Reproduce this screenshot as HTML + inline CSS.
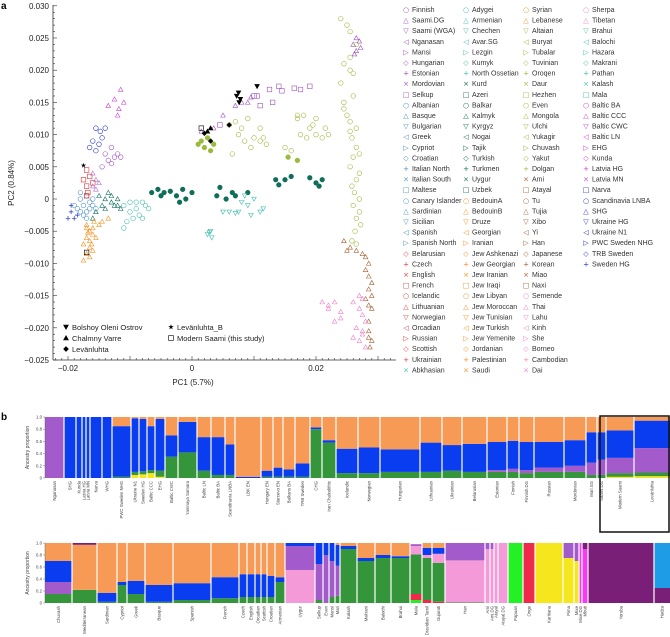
<!DOCTYPE html>
<html><head><meta charset="utf-8"><style>
body{margin:0;background:#fff}
svg{display:block;font-family:"Liberation Sans",sans-serif}
</style></head><body>
<svg id="fig" width="670" height="637" viewBox="0 0 670 637" xmlns="http://www.w3.org/2000/svg">
<text x="1" y="9" font-size="10" font-weight="bold">a</text>
<text x="1" y="420" font-size="10" font-weight="bold">b</text>
<g id="pca"></g>
<g id="legend"></g>
<g id="bars"></g>
</svg>
<script>
// ---------- PCA data (values in units of 0.001) ----------
const yTicks=[30,25,20,15,10,5,0,-5,-10,-15,-20,-25];
const yTickLabels=["0.030","0.025","0.020","0.015","0.010","0.005","0","−0.005","−0.010","−0.015","−0.020","−0.025"];
const xTicks=[-20,0,20];
const xTickLabels=["−0.02","0","0.02"];
const magentaPts=[[-13.5,14.5],[-12.5,15.5],[-11.5,17],[-12,13],[-11,15],[-11.8,14]];
const bluePts=[[-15.5,11],[-14.8,10.5],[-16,9],[-15,8.5],[-14,11],[-16.5,8],[-15.5,7.5],[-14.5,9.5]];
const purpleCircPts=[[-13,8],[-12,7],[-13.5,6],[-12.5,6.5],[-14,7],[-11.5,6.5],[-13,5.5],[-14.5,5]];
const redPts=[[-17,4.5],[-16.5,3.5],[-17.5,3],[-16,2.5],[-17,2],[-16.8,1],[-17,0.5]];
const lilacPts=[[-16,4],[-15.5,3],[-16,2],[-15,2.5],[-15.5,1.5]];
const steelPts=[[-18,0],[-17.5,-1],[-17,-2],[-18.5,-1.5],[-16.5,-0.5],[-17,0.5],[-16,-1],[-17.5,-2.5],[-18,-2],[-16,0],[-16.5,-1.5],[-19,-1],[-18,1],[-17,-3],[-15.5,-1.5]];
const bluePlusPts=[[-20,-3],[-19.5,-2],[-19,-3],[-18.5,-2.5],[-19.5,-1]];
const orangePts=[[-17,-4],[-16.5,-5],[-17,-6],[-16,-5.5],[-17.5,-7],[-16.5,-7.5],[-17,-8.5],[-16,-8],[-17.5,-9.5],[-16.5,-9],[-15.5,-6],[-16,-4.5],[-14.5,-3.5],[-15,-4],[-13.5,-3],[-17,-4.5],[-16.5,-6.5],[-16.2,-7],[-16.8,-5.2],[-15.8,-3.5]];
const tealSmallPts=[[-15,0.5],[-14,0],[-13,-0.5],[-12,0],[-13.5,1],[-14.5,-1],[-12.5,-1],[-11.5,-1.5],[-14,-1.5],[-15.5,-2],[-16,-3],[-13,0.5],[-12,-1]];
const turqPts=[[-11,-1],[-10,-2],[-9,-1.5],[-8,-0.5],[-9.5,-3],[-10.5,-3.5],[-8.5,-2.5],[-7.5,-1],[-9,-0.5],[-10,-0.5],[-8,-3],[-11,-4.5],[-7,-1.5]];
const darkTealPts=[[-6.5,1],[-5.5,1.5],[-4.5,1],[-3.5,1.2],[-2.5,0.5],[-1.5,1.5],[-5,0.5],[-2,-0.5],[-1,0],[0,1],[4,0.5],[5.5,0],[6.5,1],[7,0.5],[4.5,1.8],[9,1],[14,2.2],[15,3],[13.5,3],[16,3.5],[20,2.5],[20.5,2],[21,3],[19,3.3]];
const lightTealPts=[[8,-0.5],[9,-1],[10,0],[7.5,-2],[9.5,-2.5],[8.5,0.5],[3,-5],[2.5,-5.5],[3.2,-6],[2.8,-5.2],[5,-2],[6,-2],[7,-2.2],[11,-2],[11.5,-1.5]];
const purpleSqPts=[[10,16],[12.5,17],[14,17.5],[14.5,16.8],[16.5,17.2],[17.5,17],[19,17.5],[13,15],[4.5,11.5],[10.5,16],[11,14.5]];
const purpleTriPts=[[1.5,10.5],[3.5,11],[5,13],[7,14.5],[8,15],[9,15],[9.5,15.8],[26,24],[26.5,23],[27,24.5],[26.2,22.5],[27.2,23.5],[26.5,25]];
const olivePts=[[1,8.5],[2,8],[3,7.5],[3.5,8.5],[1.5,9],[2.5,9.5],[17,6],[15.5,6.5]];
const oliveOpenPts=[[6,11.5],[7,12],[9,12.5],[7.5,10],[8.5,9],[9.5,8],[10,9.5],[11,9],[12,8.5],[11.5,9.5],[8,11],[11,11],[6.5,7],[17,12.5],[17.5,10],[19,11],[18.5,9.5],[20,10],[21,9.5],[19.5,11.5],[21.5,11],[22,10],[15,8],[16,7.5],[17,13],[18,13],[20,12.5],[24,28],[25,27],[25.5,26],[26.5,24],[25.5,22],[24.5,21],[25.5,20],[26,19.5],[24,18],[24.5,15],[26,16],[24.5,14],[25,13],[25.5,12],[26.5,11],[25.5,10.5],[25.8,9.5],[26.5,8],[27,7],[26,6.5],[25.5,5],[27,4],[26.5,3],[25.8,2],[26.2,1],[27,0],[26,-1],[27,-2],[26.5,-3],[27.2,-4],[26.3,-5],[25.8,-6.5],[26.5,-7]];
const brownPts=[[26.5,-8],[27.5,-8.5],[28,-9],[28.5,-10],[28,-11],[28.5,-12],[29,-13],[28.5,-14],[29,-15],[28,-15.5],[28.5,-16.5],[29,-17],[28.5,-19],[28.5,-20.5],[28.5,-21.5],[29,-22],[28.7,-23],[24.5,-6.5],[25.5,-7.5],[25,-8]];
const pinkPts=[[21,-16],[22,-16.5],[23,-16],[22,-17],[24,-17.5],[26,-16],[27,-17],[27.5,-18],[28,-19],[26.5,-20],[27.5,-21],[27,-22],[28,-23],[26,-21.5],[27.5,-20.5],[23,-19],[24,-18.5],[27,-15],[27.5,-15.5]];
const bolshoyPts=[[7.5,16.5],[7.2,16],[7.8,15.5],[7.6,15],[10.5,17.5]];
const chalmnyPts=[[2.5,10.5],[3,11]];
const levanPts=[[3,9],[6,11.5],[2,10.2]];
const levanBPts=[[-17.5,5.2]];
const saamiPts=[[1.5,11],[-17,-8.3]];

const NS="http://www.w3.org/2000/svg";
function mk(tag,attrs,parent){const e=document.createElementNS(NS,tag);for(const k in attrs)e.setAttribute(k,attrs[k]);parent.appendChild(e);return e;}
const X0=192,XS=6.2,Y0=199,YS=6.44;
function sx(v){return X0+v*XS;}
function sy(v){return Y0-v*YS;}
const pca=document.getElementById('pca');
// axes
const axL=53;
let ax=mk('line',{x1:axL,y1:5,x2:axL,y2:360,stroke:'#333','stroke-width':0.8},pca);


ax=mk('line',{x1:axL,y1:360,x2:396,y2:360,stroke:'#333','stroke-width':0.8},pca);


for(let v=-25;v<=30;v++){mk('line',{x1:axL,y1:sy(v),x2:axL+(v%5===0?4:2),y2:sy(v),stroke:'#333','stroke-width':0.6},pca);}
for(let v=-22;v<=32;v++){mk('line',{x1:sx(v),y1:360,x2:sx(v),y2:360-(v%10===0?4:2),stroke:'#333','stroke-width':0.6},pca);}
yTicks.forEach((v,i)=>{const t=mk('text',{x:axL-4,y:sy(v)+3,'font-size':8,'text-anchor':'end',fill:'#222'},pca);t.textContent=yTickLabels[i];

});
xTicks.forEach((v,i)=>{const t=mk('text',{x:sx(v),y:371,'font-size':8,'text-anchor':'middle',fill:'#222'},pca);t.textContent=xTickLabels[i];

});
let tt=mk('text',{x:193,y:385,'font-size':8,'text-anchor':'middle',fill:'#222'},pca);tt.textContent='PC1 (5.7%)';


tt=mk('text',{x:0,y:0,'font-size':8,'text-anchor':'middle',fill:'#222',transform:'translate(14,183) rotate(-90)'},pca);tt.textContent='PC2 (0.84%)';



function marker(p,shape,col,fill,r){
  const x=p[0],y=p[1];r=r||2.3;let e;
  const f=fill?col:'none';
  if(shape==='o')e=mk('circle',{cx:x,cy:y,r:r,fill:f,stroke:col,'stroke-width':0.6},p[2]);
  else if(shape==='s')e=mk('rect',{x:x-r,y:y-r,width:2*r,height:2*r,fill:f,stroke:col,'stroke-width':0.6},p[2]);
  else if(shape==='t')e=mk('polygon',{points:`${x},${y-r} ${x-r},${y+r*0.8} ${x+r},${y+r*0.8}`,fill:f,stroke:col,'stroke-width':0.6},p[2]);
  else if(shape==='v')e=mk('polygon',{points:`${x},${y+r} ${x-r},${y-r*0.8} ${x+r},${y-r*0.8}`,fill:f,stroke:col,'stroke-width':0.6},p[2]);
  else if(shape==='d')e=mk('polygon',{points:`${x},${y-r} ${x+r},${y} ${x},${y+r} ${x-r},${y}`,fill:f,stroke:col,'stroke-width':0.6},p[2]);
  else if(shape==='+')e=mk('path',{d:`M${x-r} ${y}H${x+r}M${x} ${y-r}V${y+r}`,stroke:col,'stroke-width':0.7},p[2]);
  else if(shape==='*')e=mk('polygon',{points:[0,1,2,3,4,5,6,7,8,9].map(k=>{const a=-Math.PI/2+k*Math.PI/5,rr=k%2?r*0.45:r*1.2;return (x+rr*Math.cos(a))+','+(y+rr*Math.sin(a));}).join(' '),fill:col},p[2]);
  return e;
}
const groups=[
 [tealSmallPts,'t','#0e6e5a',false,'dark-teal-series'],
 [turqPts,'o','#3fbfae',false,'turquoise-series'],
 [steelPts,'o','#4a90c8',false,'steelblue-series'],
 [bluePlusPts,'+','#2233cc',false,'blue-plus-series'],
 [orangePts,'t','#f7901e',false,'orange-series'],
 [magentaPts,'t','#d040d0',false,'magenta-series'],
 [bluePts,'o','#2233cc',false,'blue-series'],
 [purpleCircPts,'o','#a050c0',false,'purple-circle-series'],
 [redPts,'s','#e03030',false,'red-series'],
 [lilacPts,'t','#b070d0',false,'lilac-series'],
 [darkTealPts,'o','#0e6e5a',true,'dark-teal-filled-series'],
 [lightTealPts,'v','#40c0b0',false,'light-teal-series'],
 [purpleSqPts,'s','#a050c0',false,'purple-square-series'],
 [purpleTriPts,'t','#a050c0',false,'purple-triangle-series'],
 [oliveOpenPts,'o','#9abb3a',false,'olive-open-series'],
 [olivePts,'o','#9abb3a',true,'olive-filled-series'],
 [brownPts,'t','#a86030',false,'brown-series'],
 [pinkPts,'t','#f080c8',false,'pink-series'],
 [bolshoyPts,'v','#000',true,'bolshoy-series'],
 [chalmnyPts,'t','#000',true,'chalmny-series'],
 [levanPts,'d','#000',true,'levanluhta-series'],
 [levanBPts,'*','#000',true,'levanluhta-b-series'],
 [saamiPts,'s','#000',false,'modern-saami-series']
];
groups.forEach(g=>{const gg=mk('g',{},pca);
 
 
 g[0].forEach(p=>marker([sx(p[0]),sy(p[1]),gg],g[1],g[2],g[3]));});
// inset legend
const inset=[[66,327,'v','Bolshoy Oleni Ostrov',true],[66,338,'t','Chalmny Varre',true],[66,349,'d','Levänluhta',true],[171,327,'*','Levänluhta_B',true],[171,338,'s','Modern Saami (this study)',false]];
inset.forEach(it=>{const g=mk('g',{},pca);
 
 
 marker([it[0],it[1],g],it[2],'#000',it[4],2.4);
 const t=mk('text',{x:it[0]+6,y:it[1]+3,'font-size':7.5,fill:'#222'},g);t.textContent=it[3];});

// ---------- legend ----------
const col1=["Finnish","Saami.DG","Saami (WGA)","Nganasan","Mansi","Hungarian","Estonian","Mordovian","Selkup","Albanian","Basque","Bulgarian","Greek","Cypriot","Croatian","Italian North","Italian South","Maltese","Canary Islander","Sardinian","Sicilian","Spanish","Spanish North","Belarusian","Czech","English","French","Icelandic","Lithuanian","Norwegian","Orcadian","Russian","Scottish","Ukrainian","Abkhasian"];
const col2=["Adygei","Armenian","Chechen","Avar.SG","Lezgin","Kumyk","North Ossetian","Kurd","Azeri","Balkar","Kalmyk","Kyrgyz","Nogai","Tajik","Turkish","Turkmen","Uygur","Uzbek","BedouinA","BedouinB","Druze","Georgian","Iranian","Jew Ashkenazi","Jew Georgian","Jew Iranian","Jew Iraqi","Jew Libyan","Jew Moroccan","Jew Tunisian","Jew Turkish","Jew Yemenite","Jordanian","Palestinian","Saudi"];
const col3=["Syrian","Lebanese","Altaian","Buryat","Tubalar","Tuvinian","Oroqen","Daur","Hezhen","Even","Mongola","Ulchi","Yukagir","Chuvash","Yakut","Dolgan","Ami","Atayal","Tu","Tujia","Xibo","Yi","Han","Japanese","Korean","Miao","Naxi","Semende","Thai","Lahu","Kinh","She","Borneo","Cambodian","Dai"];
const col4=["Sherpa","Tibetan","Brahui","Balochi","Hazara","Makrani","Pathan","Kalash","Mala","Baltic BA","Baltic CCC","Baltic CWC","Baltic LN","EHG","Kunda","Latvia HG","Latvia MN","Narva","Scandinavia LNBA","SHG","Ukraine HG","Ukraine N1","PWC Sweden NHG","TRB Sweden","Sweden HG"];
const symbols=["○","△","▽","◁","▷","◇","+","×","□"];
function colColor(c,i){
 if(c===0)return i<9?'#a050c0':i<23?'#4a90c8':i<34?'#e04040':'#3fbfae';
 if(c===1)return i<7?'#3fbfae':i<18?'#0e6e5a':'#f7901e';
 if(c===2)return i<2?'#f7901e':i<16?'#9abb3a':i<27?'#a86030':'#f080c8';
 return i<2?'#f080c8':i<9?'#3fbfae':i<17?'#d040d0':'#2233cc';
}
const leg=document.getElementById('legend');
[col1,col2,col3,col4].forEach((col,c)=>{col.forEach((name,i)=>{
 const x=406+c*60,y=9+i*10.6;const g=mk('g',{},leg);
 
 
 const s=mk('text',{x:x,y:y+3,'font-size':7,'text-anchor':'middle',fill:colColor(c,i),'font-family':'DejaVu Sans'},g);s.textContent=symbols[i%9];
 const t=mk('text',{x:x+6,y:y+3,'font-size':7,fill:'#333'},g);t.textContent=name;});});

// ---------- ADMIXTURE top ----------
const topPops=["Nganasan","SHG","Kunda","Latvia HG","Latvia MN","Narva","WHG","PWC Sweden NHG","Ukraine N1","Sweden HG","Baltic CCC","EHG","Baltic CWC","Yamnaya Samara","Baltic LN","Baltic BA","Scandinavia LNBA","LBK EN","Hungary EN","Starcevo EN","Balkans BA","TRB Sweden","CHG","Iran Chalcolithic","Icelandic","Norwegian","Hungarian","Lithuanian","Ukrainian","Belarusian","Estonian","Finnish","Finnish.DG","Russian","Mordovian","Mari.SG","Saami.DG","Modern Saami","Levänluhta"];
const topN=[19,12,6,4,4,12,10,19,8,8,8,10,13,19,14,14,10,26,12,10,12,15,12,14,22,22,40,22,20,25,20,12,15,30,22,11,9,28,36];
const topYellow=[0,0,0,0,0,0,0,0,.05,.06,.08,.02,0,0,0,0,0,0,0,0,0,0,0,0,0,0,0,0,0,0,0,0,0,0,0,0,0,.02,.03];
const topGreen=[0,0,0,0,0,0,0,.02,.05,.05,.05,.1,.35,.42,.12,.05,.05,0,.02,.02,.02,.02,.8,.58,.08,.08,.1,.1,.12,.1,.1,.1,.08,.1,.1,.05,.05,.06,.06];
const topPurple=[1,0,0,0,0,0,0,0,0,0,0,0,0,0,0,0,0,0,0,0,0,0,0,0,0,0,0,0,0,0,.03,.05,.05,.07,.1,.2,.25,.25,.4];
const topBlue=[0,1,1,1,1,1,1,.83,.88,.86,.72,.85,.35,.5,.55,.62,.5,.02,.1,.15,.12,.22,.03,.04,.4,.42,.37,.48,.42,.46,.46,.46,.46,.42,.42,.5,.45,.45,.45];
const botPops=["Chuvash","Mediterranean","Sardinian","Cypriot","Greek","Basque","Spanish","French","Czech","English","Orcadian","Scottish","Croatian","Armenian","Uygur","Selkup","Even","Mansi","Mari","Kalash","Makrani","Balochi","Brahui","Mala","Dravidian Tamil","Gujarati","Han","Ami","Ami.DG","Atayal","Atayal.DG","Papuan","Onge","Karitiana","Pima","Mixe","Mixe.DG","Mbuti","Yoruba","Hadza"];
const botN=[27,25,20,10,18,28,38,28,8,8,6,6,8,10,30,8,6,6,5,17,18,16,19,12,10,13,40,5,4,4,10,15,12,28,11,5,3,6,66,16];
const botYellow=[0,0,0,0,0,0,0,0,0,0,0,0,0,0,0,0,0,0,0,0,0,0,0,0,0,0,0,0,0,0,0,0,0,1,.75,.7,0,0,0,0];
const botLime=[0,0,0,0,0,0,0,0,0,0,0,0,0,0,0,0,0,0,0,0,0,0,0,.05,0,0,0,0,0,0,0,1,0,0,0,0,0,0,0,0];
const botRed=[0,0,0,0,0,0,0,0,0,0,0,0,0,0,0,0,0,0,0,0,0,0,0,.1,.05,.02,0,0,0,0,0,0,1,0,0,0,0,0,0,0];
const botGreen=[.15,.22,.02,.3,.15,.02,.05,.08,.1,.1,.1,.1,.1,.35,0,.05,0,.1,.12,.9,.7,.75,.75,.66,.7,.65,.01,0,0,0,0,0,0,0,0,0,0,0,0,0];
const botPink=[0,0,0,0,0,0,0,0,0,0,0,0,0,0,.55,0,0,0,0,0,0,0,0,.14,.05,.15,.7,.9,.9,1,1,0,0,0,0,0,0,0,0,0];
const botPurple=[.2,0,0,0,0,0,0,0,0,0,0,0,0,0,.4,.6,.8,.6,.5,0,0,0,0,.03,0,0,.29,.1,.1,0,0,0,0,0,.25,.3,0,0,0,0];
const botBlue=[.35,0,.15,.05,.22,.28,.28,.35,.38,.38,.38,.38,.35,.08,.05,.35,.2,.3,.35,.05,.05,.05,.03,0,.12,.1,0,0,0,0,0,0,0,0,0,0,0,0,0,0];
const botOrange=[.3,.75,.83,.65,.63,.7,.67,.57,.52,.52,.52,.52,.55,.57,0,0,0,0,.03,.05,.25,.2,.22,0,.08,.08,0,0,0,0,0,0,0,0,0,0,0,0,0,0];
const botMagenta=[0,0,0,0,0,0,0,0,0,0,0,0,0,0,0,0,0,0,0,0,0,0,0,0,0,0,0,0,0,0,0,0,0,0,0,0,1,.9,0,0];
const botDark=[0,.03,0,0,0,0,0,0,0,0,0,0,0,0,0,0,0,0,0,0,0,0,0,0,0,0,0,0,0,0,0,0,0,0,0,0,0,.1,1,.25];
const botLightBlue=[0,0,0,0,0,0,0,0,0,0,0,0,0,0,0,0,0,0,0,0,0,0,0,0,0,0,0,0,0,0,0,0,0,0,0,0,0,0,0,.75];

const C={yellow:'#f5e61e',green:'#35953a',purple:'#a35bcc',blue:'#0a3cf0',orange:'#f79a55',pink:'#f59ad8',red:'#f0284a',lime:'#25f025',magenta:'#f53cf5',dark:'#7a1f78',lightblue:'#1e9de6'};
const bars=document.getElementById('bars');
const BX0=45,BX1=670;
function panel(y1,y0,pops,ns,comps,fillRest,name){
 const g=mk('g',{},bars);
 
 
 const total=ns.reduce((a,b)=>a+b,0);const w=(BX1-BX0)/total;const h=y0-y1;
 let x=BX0;
 pops.forEach((p,i)=>{const bw=ns[i]*w;let acc=0;
  const gg=mk('g',{},g);
  
  
  comps.forEach(cp=>{const v=cp[0][i];if(v>0){mk('rect',{x:x,y:y0-(acc+v)*h,width:bw,height:v*h,fill:cp[1]},gg);acc+=v;}});
  if(fillRest&&acc<1)mk('rect',{x:x,y:y1,width:bw,height:(1-acc)*h,fill:C.orange},gg);
  if(i>0)mk('rect',{x:x-0.6,y:y1,width:1.2,height:h,fill:'#fff'},g);
  const t=mk('text',{x:0,y:0,'font-size':4.3,'text-anchor':'end',fill:'#444',transform:`translate(${x+bw/2+1.5},${y0+3}) rotate(-90)`},g);t.textContent=p;
  
  
  x+=bw;});
 ['1.0','0.8','0.6','0.4','0.2','0'].forEach((l,k)=>{const yy=y1+k*h/5;
  mk('line',{x1:BX0-2,y1:yy,x2:BX0,y2:yy,stroke:'#555','stroke-width':0.4},g);
  const t=mk('text',{x:BX0-3,y:yy+1.5,'font-size':4.3,'text-anchor':'end',fill:'#444'},g);t.textContent=l;});
 mk('line',{x1:BX0,y1:y1,x2:BX0,y2:y0,stroke:'#555','stroke-width':0.4},g);
 const t=mk('text',{x:0,y:0,'font-size':5,'text-anchor':'middle',fill:'#444',transform:`translate(29,${(y1+y0)/2}) rotate(-90)`},g);t.textContent='Ancestry proportion';
 
 
}
panel(417,478,topPops,topN,[[topYellow,C.yellow],[topGreen,C.green],[topPurple,C.purple],[topBlue,C.blue]],true,'admixture-top-panel');
panel(543,603,botPops,botN,[[botYellow,C.yellow],[botLime,C.lime],[botRed,C.red],[botGreen,C.green],[botPink,C.pink],[botPurple,C.purple],[botBlue,C.blue],[botOrange,C.orange],[botMagenta,C.magenta],[botDark,C.dark],[botLightBlue,C.lightblue]],false,'admixture-bottom-panel');
const box=mk('rect',{x:600,y:416,width:69,height:116,fill:'none',stroke:'#111','stroke-width':1.5},bars);


</script>
</body></html>
